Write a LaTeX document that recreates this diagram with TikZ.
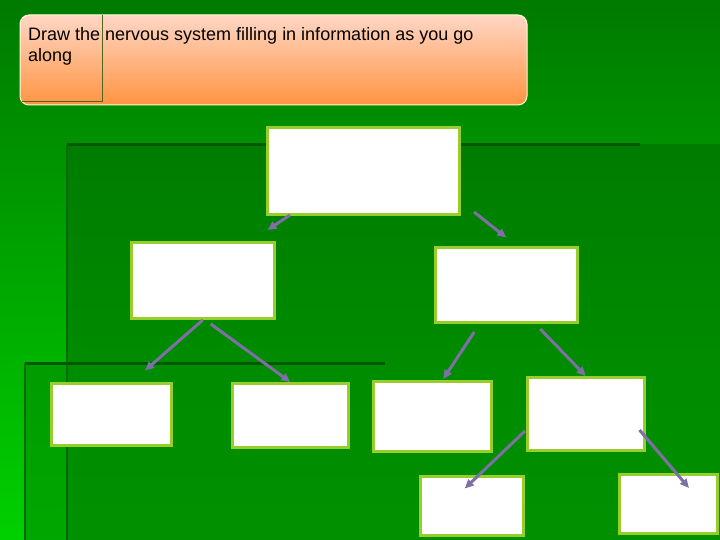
\documentclass[tikz,border=0pt]{standalone}
\usepackage{fontspec}
\setmainfont{Liberation Sans}
\usetikzlibrary{arrows.meta}

\definecolor{bgtop}{RGB}{0,122,0}
\definecolor{bgbot}{RGB}{0,208,0}
\definecolor{paneltop}{RGB}{0,124,0}
\definecolor{panelbot}{RGB}{0,152,0}
\definecolor{panellow}{RGB}{0,140,0}
\definecolor{edgedark}{RGB}{0,88,0}
\definecolor{edgeside}{RGB}{0,105,0}
\definecolor{boxedge}{RGB}{152,206,44}
\definecolor{linkcol}{RGB}{126,112,166}
\definecolor{peachtop}{RGB}{255,214,196}
\definecolor{peachbot}{RGB}{255,148,66}
\definecolor{oliveline}{RGB}{80,100,30}

\begin{document}
\begin{tikzpicture} [x=1pt, y=-1pt,
  blank/.style={draw=boxedge, line width=3pt, fill=white, inner sep=0pt},
  link/.style={draw=linkcol, line width=3pt, -{Triangle[length=9pt,width=8pt]}}]
  \useasboundingbox (0,0) rectangle (720,540);

  % background
  \shade[top color=bgtop, bottom color=bgbot] (0,0) rectangle (720,540);
  \shade[top color=paneltop, bottom color=panelbot] (67,145) rectangle (720,540);
  \fill[panellow, opacity=0.6] (25,363) rectangle (720,540);
  \draw[edgedark, line width=3pt] (67,145) -- (640,145);
  \draw[edgeside, line width=2pt] (67,145) -- (67,540);
  \draw[edgedark, line width=3pt] (25,363) -- (385,363);
  \draw[edgeside, line width=2pt] (25,363) -- (25,540);

  % title
  \path[draw=white!85!yellow, line width=1pt, rounded corners=9pt,
        top color=peachtop, bottom color=peachbot] (20,15) rectangle (527,105);
  \draw[oliveline, line width=1pt] (102,15) -- (102,102) -- (22,102);
  \node[anchor=north west, inner sep=0pt, align=left, font=\fontsize{18}{21.7}\selectfont]
    (title) at (28,27) {Draw the nervous system filling in information as you go\\along};

  % boxes
  \node[blank, minimum width=192pt, minimum height=87pt] (ns) at (363.5,171) {};
  \node[blank, minimum width=142.5pt, minimum height=76pt] (cns) at (202.75,280.5) {};
  \node[blank, minimum width=141.5pt, minimum height=75.5pt] (pns) at (506.25,284.75) {};
  \node[blank, minimum width=120pt, minimum height=62pt] (brain) at (111,414) {};
  \node[blank, minimum width=116.5pt, minimum height=64pt] (cord) at (290.25,415.5) {};
  \node[blank, minimum width=117.5pt, minimum height=69.5pt] (somatic) at (432.25,416.25) {};
  \node[blank, minimum width=116.5pt, minimum height=73pt] (autonomic) at (585.75,414) {};
  \node[blank, minimum width=103.5pt, minimum height=59.5pt] (symp) at (471.75,505.75) {};
  \node[blank, minimum width=98pt, minimum height=59pt] (para) at (668,504) {};

  % arrows
  \draw[link] ([xshift=24pt, yshift=1pt]ns.south west) -- ([xshift=-8pt, yshift=11pt]cns.north east);
  \draw[link] ([xshift=13pt, yshift=4pt]ns.south east) -- ([yshift=8pt]pns.north);
  \draw[link] (cns.south) -- ([xshift=34pt, yshift=11pt]brain.north);
  \draw[link] ([xshift=8pt, yshift=-4pt]cns.south) -- (cord.north);
  \draw[link] ([xshift=-32pt, yshift=-8pt]pns.south) -- ([xshift=11pt, yshift=1pt]somatic.north);
  \draw[link] ([xshift=34pt, yshift=-5pt]pns.south) -- (autonomic.north);
  \draw[link] ([xshift=-1pt, yshift=-17pt]autonomic.west) -- ([xshift=-7pt, yshift=-14pt]symp.north);
  \draw[link] ([xshift=-6pt, yshift=-16pt]autonomic.east) -- ([xshift=21pt, yshift=-15pt]para.north);
\end{tikzpicture}
\end{document}
